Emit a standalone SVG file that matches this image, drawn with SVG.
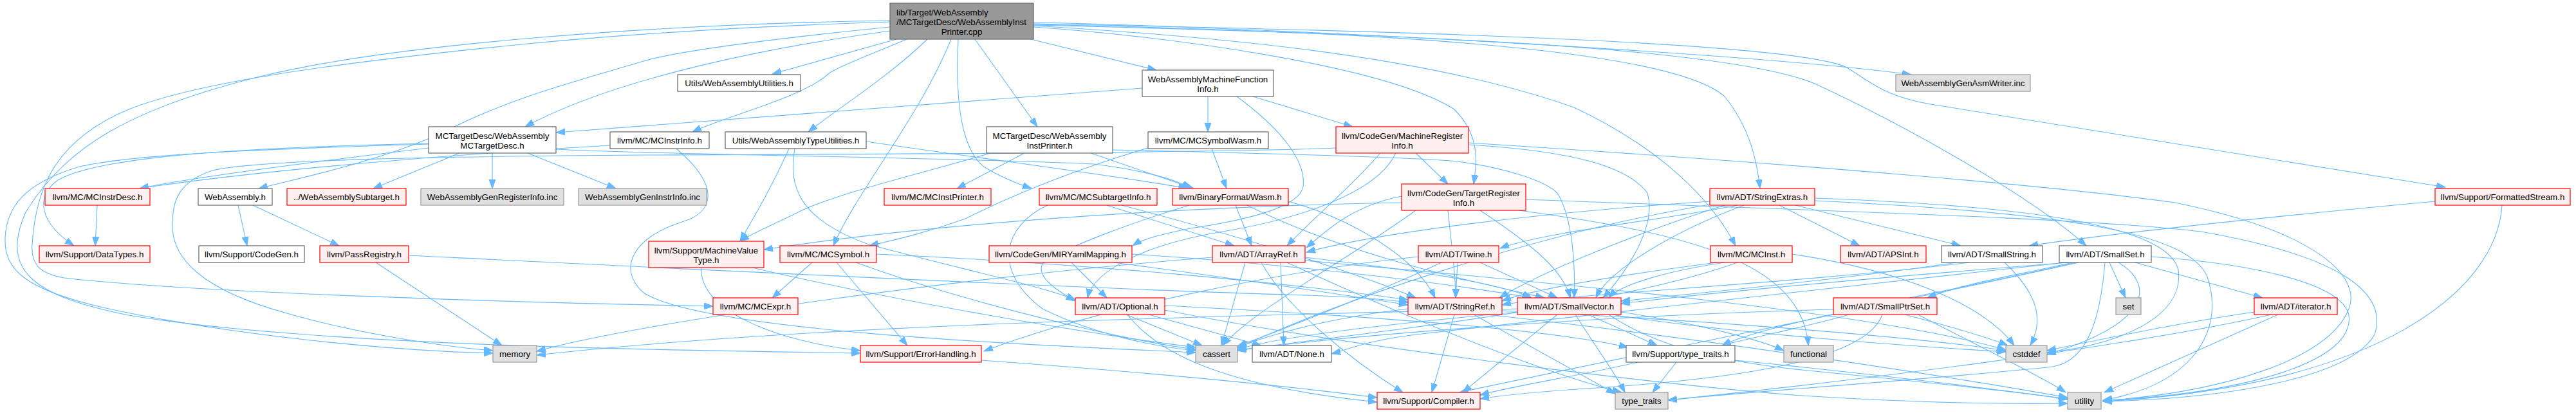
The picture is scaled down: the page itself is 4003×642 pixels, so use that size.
<svg xmlns="http://www.w3.org/2000/svg" width="4003" height="642" viewBox="0 0 4003 642">
<style>
rect{stroke-width:1.2}
.root rect{fill:#999999;stroke:#666666}
.n rect{fill:#ffffff;stroke:#666666}
.r rect{fill:#fff0f0;stroke:#ff0000}
.g rect{fill:#e0e0e0;stroke:#999999}
text{font-family:"Liberation Sans",Arial,sans-serif;font-size:13.33px;fill:#000;text-anchor:middle}
text.l{text-anchor:start}
#edges path{fill:none;stroke:#63b8ff;stroke-width:1.1;marker-end:url(#ah)}
</style>
<defs>
<marker id="ah" markerUnits="userSpaceOnUse" markerWidth="15" markerHeight="11" refX="14" refY="5" orient="auto">
<path d="M0,0 L14,5 L0,10 z" fill="#63b8ff" stroke="#63b8ff" stroke-width="1"/>
</marker>
</defs>
<rect width="4003" height="642" fill="#ffffff"/>
<g id="edges">
<path d="M1515,61 L1612,197"/>
<path d="M1383,48 C1150,80 940,130 816,197"/>
<path d="M1383,42 C1200,60 1050,80 1000,95 C900,125 800,150 700,200 C600,250 450,280 402,293"/>
<path d="M1393,61 L1200,115"/>
<path d="M1409,61 C1340,90 1300,105 1287,115 C1250,150 1130,180 1076,205"/>
<path d="M1441,61 C1380,120 1300,170 1256,205"/>
<path d="M1478,61 C1430,180 1330,300 1295,382"/>
<path d="M1489,61 C1485,140 1490,230 1530,260 C1560,278 1585,287 1603,293"/>
<path d="M1606,62 L1797,109"/>
<path d="M1606,35 C1900,40 2700,80 2970,116"/>
<path d="M1606,37 C2300,50 2800,70 2870,105 C2910,130 2930,150 3000,162 L3800,291"/>
<path d="M1606,38 C2200,50 2600,80 2680,150 C2720,200 2730,250 2735,293"/>
<path d="M1606,40 C1850,55 2200,80 2446,167 C2580,230 2660,310 2697,382"/>
<path d="M1606,42 C1800,55 2150,100 2260,170 C2300,210 2295,250 2290,286"/>
<path d="M1606,39 C2300,55 2700,80 2820,130 C2950,190 3150,300 3242,382"/>
<path d="M1383,34 C1200,40 1000,50 800,70 C500,100 300,130 200,170 C80,220 55,300 50,380 C48,410 60,425 100,432 C300,455 800,470 1108,476"/>
<path d="M1383,32 C1000,38 600,70 400,120 C200,170 100,230 40,330 C0,420 50,460 200,490 C500,540 1100,545 1337,549"/>
<path d="M714,238 L580,293"/>
<path d="M765,238 L765,293"/>
<path d="M820,238 L957,293"/>
<path d="M666,230 C500,250 300,275 217,293"/>
<path d="M864,232 C1000,240 1500,245 1700,255 C1780,265 1830,280 1850,293"/>
<path d="M666,223 C350,230 150,245 90,280 C55,305 60,345 115,382"/>
<path d="M666,224 C400,232 200,240 120,260 C40,285 10,320 8,370 C6,420 40,450 160,478 C350,520 600,545 766,549"/>
<path d="M948,226 C700,240 400,265 217,293"/>
<path d="M1051,231 C1120,290 1110,330 1060,345 C980,370 960,420 1000,455 C1100,520 1700,540 1858,548"/>
<path d="M370,319 L384,382"/>
<path d="M393,319 L527,382"/>
<path d="M584,408 L780,537"/>
<path d="M635,397 C900,410 1700,450 2000,458 C2100,461 2150,465 2188,470"/>
<path d="M151,319 L148,382"/>
<path d="M1775,137 L864,206"/>
<path d="M1877,150 L1877,205"/>
<path d="M1947,150 L2102,197"/>
<path d="M1922,150 C1990,200 2030,250 2025,290 C2020,320 1950,340 1850,355 C1800,365 1775,372 1760,382"/>
<path d="M1883,231 L1906,293"/>
<path d="M1784,230 C1650,270 1560,310 1500,340 C1430,365 1380,375 1351,382"/>
<path d="M1592,238 L1487,293"/>
<path d="M1695,238 L1855,293"/>
<path d="M1539,238 C1450,265 1300,300 1240,330 C1200,350 1170,362 1150,375"/>
<path d="M1729,233 C1850,236 2150,242 2255,250 C2330,258 2400,280 2420,300 C2445,340 2448,420 2446,463"/>
<path d="M1346,220 C1550,250 1750,275 1845,293"/>
<path d="M1226,231 C1200,290 1170,340 1150,375"/>
<path d="M1235,231 C1225,290 1240,340 1350,380 C1500,420 1620,445 1671,466"/>
<path d="M2200,238 L2250,286"/>
<path d="M2145,238 C2100,290 2040,340 2000,382"/>
<path d="M2076,230 C1900,238 1300,240 1000,241 C700,243 400,248 330,265 C270,285 268,320 268,355 C270,400 310,450 446,487 C560,520 700,540 766,545"/>
<path d="M2282,225 C2450,235 2530,260 2560,300 C2575,350 2530,420 2491,463"/>
<path d="M2282,222 C2800,255 3200,290 3380,315 C3600,360 3670,430 3650,480 C3620,560 3450,610 3268,623"/>
<path d="M2169,238 C2140,300 2020,340 1900,360 C1780,380 1700,420 1690,463"/>
<path d="M2178,305 C2100,320 2060,360 2030,385"/>
<path d="M2178,315 C1900,320 1500,340 1187,388"/>
<path d="M2300,327 C2380,380 2430,420 2440,463"/>
<path d="M2250,327 C2255,380 2262,420 2262,463"/>
<path d="M2200,327 C2100,400 1950,480 1900,537"/>
<path d="M2360,327 C2600,360 2800,400 2810,537"/>
<path d="M2371,310 C2900,330 3250,340 3420,360 C3650,400 3710,460 3690,520 C3650,590 3450,620 3268,624"/>
<path d="M2765,319 L2890,382"/>
<path d="M2790,319 L3047,382"/>
<path d="M2657,313 C2400,330 2150,360 2030,392"/>
<path d="M2680,319 C2550,360 2400,420 2330,463"/>
<path d="M2700,319 C2600,340 2400,360 2331,386"/>
<path d="M2710,319 C2600,360 2500,420 2480,463"/>
<path d="M2820,308 C3150,320 3370,350 3385,420 C3395,490 3300,535 3181,548"/>
<path d="M2820,312 C3200,330 3400,360 3430,430 C3460,520 3400,600 3268,622"/>
<path d="M2657,318 C2400,360 2100,460 1923,541"/>
<path d="M3278,408 L3303,463"/>
<path d="M3318,408 L3516,463"/>
<path d="M3292,408 C3345,440 3350,500 3181,551"/>
<path d="M3343,399 C3500,410 3640,440 3650,490 C3660,560 3500,610 3268,623"/>
<path d="M3271,408 C3265,480 3250,560 3190,570 C3000,590 2700,610 2592,622"/>
<path d="M3220,408 C3150,425 3050,440 2995,463"/>
<path d="M3215,408 C3000,425 2700,450 2519,472"/>
<path d="M3210,408 C2900,440 2400,500 2200,520 C2120,530 2090,545 2069,550"/>
<path d="M3225,408 C3050,450 2750,500 2676,537"/>
<path d="M3230,408 C3000,460 2500,560 2268,610"/>
<path d="M3040,408 C2900,430 2650,455 2519,468"/>
<path d="M3060,408 C2800,440 2400,460 2334,474"/>
<path d="M3115,408 C3170,460 3175,500 3155,537"/>
<path d="M2925,489 C2900,560 2700,590 2450,605 C2380,610 2330,615 2300,620"/>
<path d="M2874,489 C2800,510 2720,525 2676,537"/>
<path d="M2849,481 C2500,490 2100,520 1923,545"/>
<path d="M2960,489 C3040,510 3090,525 3120,537"/>
<path d="M2980,489 C3080,540 3180,590 3210,610"/>
<path d="M2605,563 L2568,610"/>
<path d="M2696,560 C2900,580 3100,605 3213,620"/>
<path d="M2545,563 C2450,585 2350,600 2300,614"/>
<path d="M2420,489 L2273,610"/>
<path d="M2468,489 L2575,537"/>
<path d="M2448,489 C2480,540 2510,580 2525,610"/>
<path d="M2358,485 C2200,500 2000,520 1923,543"/>
<path d="M2505,489 C2700,520 3000,540 3117,547"/>
<path d="M2519,485 C2650,505 2740,530 2772,545"/>
<path d="M2500,489 C2560,530 2650,560 2800,575 C3000,595 3150,610 3213,621"/>
<path d="M2358,480 C2000,490 1300,500 834,552"/>
<path d="M2260,489 L2225,610"/>
<path d="M2290,489 C2380,540 2470,590 2510,612"/>
<path d="M2188,480 C2100,490 2000,510 1923,540"/>
<path d="M2334,483 C2600,495 2950,520 3117,545"/>
<path d="M2310,489 C2600,520 3000,580 3213,618"/>
<path d="M2265,408 L2262,463"/>
<path d="M2300,408 L2420,463"/>
<path d="M2204,399 C2000,420 1700,480 1529,546"/>
<path d="M2240,408 C2150,450 2000,510 1923,538"/>
<path d="M2680,408 C2600,420 2520,440 2500,463"/>
<path d="M2668,408 C2500,430 2380,450 2334,468"/>
<path d="M2700,408 C2500,480 2100,520 1923,544"/>
<path d="M2785,395 C2950,420 3080,470 3130,537"/>
<path d="M1990,408 L1995,537"/>
<path d="M2028,400 C2200,420 2330,440 2380,463"/>
<path d="M1960,408 C2000,480 2100,560 2180,610"/>
<path d="M1935,408 L1898,537"/>
<path d="M2028,405 C2300,430 2900,480 3117,544"/>
<path d="M1884,400 C1500,430 1000,500 834,546"/>
<path d="M2000,408 C2200,500 2400,580 2520,610"/>
<path d="M1750,489 L1868,537"/>
<path d="M1785,489 L1960,537"/>
<path d="M1752,489 C1800,550 1900,600 2140,625"/>
<path d="M1810,475 C2100,490 2400,510 2530,540"/>
<path d="M1810,482 C2100,540 2600,600 2800,615 C3000,628 3150,628 3213,627"/>
<path d="M1665,408 L1720,463"/>
<path d="M1730,408 C1900,430 2100,460 2188,474"/>
<path d="M1759,395 C2000,410 2250,440 2380,463"/>
<path d="M1720,319 L1918,382"/>
<path d="M1743,319 C1900,360 2100,420 2200,463"/>
<path d="M1628,319 C1560,350 1540,420 1620,480 C1700,520 1800,540 1858,545"/>
<path d="M1920,319 L1945,382"/>
<path d="M1848,319 C1780,340 1660,380 1620,410 C1610,430 1640,450 1671,468"/>
<path d="M1938,319 C2100,400 2300,440 2400,463"/>
<path d="M2002,313 C2100,340 2200,400 2230,463"/>
<path d="M1262,408 L1200,463"/>
<path d="M1300,408 L1410,537"/>
<path d="M1362,395 C1700,410 2000,440 2188,466"/>
<path d="M1330,408 C1500,470 1750,530 1858,543"/>
<path d="M1090,416 C1085,480 1200,530 1337,545"/>
<path d="M1169,416 C1400,470 1700,520 1858,540"/>
<path d="M1525,560 C1800,580 2000,600 2140,618"/>
<path d="M3503,485 C3400,500 3300,520 3181,545"/>
<path d="M3530,489 C3300,540 2900,590 2592,622"/>
<path d="M3540,489 L3270,610"/>
<path d="M3888,319 C3880,450 3700,600 3268,624"/>
<path d="M3784,313 C3600,330 3300,360 3153,382"/>
</g>
<g id="node1" class="root"><rect x="1383" y="5" width="223" height="56"/><text class="l" x="1393" y="23.5">lib/Target/WebAssembly</text><text class="l" x="1393" y="38.5">/MCTargetDesc/WebAssemblyInst</text><text x="1494.5" y="53.5">Printer.cpp</text></g>
<g id="node2" class="n"><rect x="1533" y="197" width="196" height="41"/><text x="1631" y="215.5">MCTargetDesc/WebAssembly</text><text x="1631" y="230.5">InstPrinter.h</text></g>
<g id="node3" class="n"><rect x="666" y="197" width="198" height="41"/><text x="765" y="215.5">MCTargetDesc/WebAssembly</text><text x="765" y="230.5">MCTargetDesc.h</text></g>
<g id="node4" class="r"><rect x="70" y="293" width="163" height="26"/><text x="151.5" y="310.7">llvm/MC/MCInstrDesc.h</text></g>
<g id="node5" class="n"><rect x="308" y="293" width="115" height="26"/><text x="365.5" y="310.7">WebAssembly.h</text></g>
<g id="node6" class="r"><rect x="446" y="293" width="185" height="26"/><text x="538.5" y="310.7">../WebAssemblySubtarget.h</text></g>
<g id="node7" class="g"><rect x="654" y="293" width="222" height="26"/><text x="765" y="310.7">WebAssemblyGenRegisterInfo.inc</text></g>
<g id="node8" class="g"><rect x="899" y="293" width="199" height="26"/><text x="998.5" y="310.7">WebAssemblyGenInstrInfo.inc</text></g>
<g id="node9" class="n"><rect x="948" y="205" width="154" height="26"/><text x="1025" y="222.7">llvm/MC/MCInstrInfo.h</text></g>
<g id="node10" class="n"><rect x="1053" y="116" width="191" height="26"/><text x="1148.5" y="133.7">Utils/WebAssemblyUtilities.h</text></g>
<g id="node11" class="n"><rect x="1775" y="109" width="204" height="41"/><text x="1877" y="127.5">WebAssemblyMachineFunction</text><text x="1877" y="142.5">Info.h</text></g>
<g id="node12" class="n"><rect x="1127" y="205" width="219" height="26"/><text x="1236.5" y="222.7">Utils/WebAssemblyTypeUtilities.h</text></g>
<g id="node13" class="n"><rect x="1784" y="205" width="187" height="26"/><text x="1877.5" y="222.7">llvm/MC/MCSymbolWasm.h</text></g>
<g id="node14" class="r"><rect x="1374" y="293" width="166" height="26"/><text x="1457" y="310.7">llvm/MC/MCInstPrinter.h</text></g>
<g id="node15" class="r"><rect x="1615" y="293" width="183" height="26"/><text x="1706.5" y="310.7">llvm/MC/MCSubtargetInfo.h</text></g>
<g id="node16" class="r"><rect x="1822" y="293" width="180" height="26"/><text x="1912" y="310.7">llvm/BinaryFormat/Wasm.h</text></g>
<g id="node17" class="r"><rect x="2076" y="197" width="206" height="41"/><text x="2179" y="215.5">llvm/CodeGen/MachineRegister</text><text x="2179" y="230.5">Info.h</text></g>
<g id="node18" class="r"><rect x="2178" y="286" width="193" height="41"/><text x="2274.5" y="304.5">llvm/CodeGen/TargetRegister</text><text x="2274.5" y="319.5">Info.h</text></g>
<g id="node19" class="r"><rect x="2657" y="293" width="163" height="26"/><text x="2738.5" y="310.7">llvm/ADT/StringExtras.h</text></g>
<g id="node20" class="g"><rect x="2946" y="116" width="209" height="26"/><text x="3050.5" y="133.7">WebAssemblyGenAsmWriter.inc</text></g>
<g id="node21" class="r"><rect x="3784" y="293" width="210" height="26"/><text x="3889" y="310.7">llvm/Support/FormattedStream.h</text></g>
<g id="node22" class="r"><rect x="61" y="382" width="172" height="26"/><text x="147" y="399.7">llvm/Support/DataTypes.h</text></g>
<g id="node23" class="n"><rect x="309" y="382" width="164" height="26"/><text x="391" y="399.7">llvm/Support/CodeGen.h</text></g>
<g id="node24" class="r"><rect x="497" y="382" width="138" height="26"/><text x="566" y="399.7">llvm/PassRegistry.h</text></g>
<g id="node25" class="g"><rect x="766" y="537" width="68" height="26"/><text x="800" y="554.7">memory</text></g>
<g id="node26" class="r"><rect x="1008" y="375" width="179" height="41"/><text x="1097.5" y="393.5">llvm/Support/MachineValue</text><text x="1097.5" y="408.5">Type.h</text></g>
<g id="node27" class="r"><rect x="1212" y="382" width="150" height="26"/><text x="1287" y="399.7">llvm/MC/MCSymbol.h</text></g>
<g id="node28" class="r"><rect x="1537" y="382" width="222" height="26"/><text x="1648" y="399.7">llvm/CodeGen/MIRYamlMapping.h</text></g>
<g id="node29" class="r"><rect x="1884" y="382" width="144" height="26"/><text x="1956" y="399.7">llvm/ADT/ArrayRef.h</text></g>
<g id="node30" class="r"><rect x="1108" y="463" width="132" height="26"/><text x="1174" y="480.7">llvm/MC/MCExpr.h</text></g>
<g id="node31" class="r"><rect x="1671" y="463" width="139" height="26"/><text x="1740.5" y="480.7">llvm/ADT/Optional.h</text></g>
<g id="node32" class="r"><rect x="1337" y="537" width="188" height="26"/><text x="1431" y="554.7">llvm/Support/ErrorHandling.h</text></g>
<g id="node33" class="g"><rect x="1858" y="537" width="65" height="26"/><text x="1890.5" y="554.7">cassert</text></g>
<g id="node34" class="n"><rect x="1946" y="537" width="123" height="26"/><text x="2007.5" y="554.7">llvm/ADT/None.h</text></g>
<g id="node35" class="r"><rect x="2204" y="382" width="125" height="26"/><text x="2266.5" y="399.7">llvm/ADT/Twine.h</text></g>
<g id="node36" class="r"><rect x="2658" y="382" width="127" height="26"/><text x="2721.5" y="399.7">llvm/MC/MCInst.h</text></g>
<g id="node37" class="r"><rect x="2860" y="382" width="133" height="26"/><text x="2926.5" y="399.7">llvm/ADT/APSInt.h</text></g>
<g id="node38" class="r"><rect x="2188" y="463" width="146" height="26"/><text x="2261" y="480.7">llvm/ADT/StringRef.h</text></g>
<g id="node39" class="r"><rect x="2358" y="463" width="161" height="26"/><text x="2438.5" y="480.7">llvm/ADT/SmallVector.h</text></g>
<g id="node40" class="r"><rect x="2849" y="463" width="161" height="26"/><text x="2929.5" y="480.7">llvm/ADT/SmallPtrSet.h</text></g>
<g id="node41" class="n"><rect x="2527" y="537" width="169" height="26"/><text x="2611.5" y="554.7">llvm/Support/type_traits.h</text></g>
<g id="node42" class="g"><rect x="2772" y="537" width="77" height="26"/><text x="2810.5" y="554.7">functional</text></g>
<g id="node43" class="r"><rect x="2140" y="610" width="160" height="26"/><text x="2220" y="627.7">llvm/Support/Compiler.h</text></g>
<g id="node44" class="g"><rect x="2510" y="610" width="82" height="26"/><text x="2551" y="627.7">type_traits</text></g>
<g id="node45" class="n"><rect x="3017" y="382" width="157" height="26"/><text x="3095.5" y="399.7">llvm/ADT/SmallString.h</text></g>
<g id="node46" class="n"><rect x="3200" y="382" width="143" height="26"/><text x="3271.5" y="399.7">llvm/ADT/SmallSet.h</text></g>
<g id="node47" class="g"><rect x="3288" y="463" width="39" height="26"/><text x="3307.5" y="480.7">set</text></g>
<g id="node48" class="r"><rect x="3503" y="463" width="129" height="26"/><text x="3567.5" y="480.7">llvm/ADT/iterator.h</text></g>
<g id="node49" class="g"><rect x="3117" y="537" width="64" height="26"/><text x="3149" y="554.7">cstddef</text></g>
<g id="node50" class="g"><rect x="3213" y="610" width="52" height="26"/><text x="3239" y="627.7">utility</text></g>
</svg>
